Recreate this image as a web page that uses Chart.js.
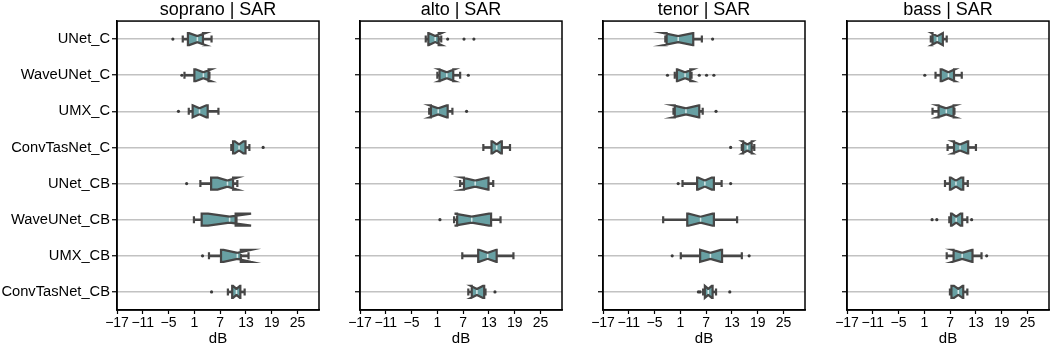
<!DOCTYPE html>
<html>
<head>
<meta charset="utf-8">
<script src="https://cdn.jsdelivr.net/npm/chart.js@4.4.1/dist/chart.umd.min.js"></script>
<style>
  body { margin: 0; background: #fff; }
  #wrap { position: relative; width: 1052px; height: 348px; overflow: hidden; }
  #wrap canvas { position: absolute; top: 0; }
</style>
</head>
<body>
<div id="wrap">
  <canvas id="c0"></canvas>
  <canvas id="c1"></canvas>
  <canvas id="c2"></canvas>
  <canvas id="c3"></canvas>
</div>
<script>
const categories = ['UNet_C', 'WaveUNet_C', 'UMX_C', 'ConvTasNet_C', 'UNet_CB', 'WaveUNet_CB', 'UMX_CB', 'ConvTasNet_CB'];
const voices = ['soprano', 'alto', 'tenor', 'bass'];
const xTicks = [-17, -11, -5, 1, 7, 13, 19, 25];

// one row per voice (soprano, alto, tenor, bass), one value per category
const whiskerLo = [
  [-1.7, -1.3, -0.3, 9.6, 2.4, 0.9, 4.4, 8.8],
  [-1.7, 1.0, -0.9, 11.7, 6.3, 4.9, 6.8, 8.2],
  [-2.5, -0.3, -0.6, 15.3, 1.5, -3.0, 1.1, 6.3],
  [2.5, 3.6, 2.9, 6.4, 5.8, 6.8, 6.2, 6.95]
];
const q1 = [
  [-0.5, 1.0, 0.6, 10.0, 4.9, 2.7, 7.2, 9.8],
  [-1.1, 1.5, -0.5, 13.6, 7.2, 5.6, 10.5, 9.0],
  [-2.2, 0.2, -0.3, 15.6, 4.9, 2.6, 5.6, 6.7],
  [2.9, 4.8, 4.3, 7.9, 6.95, 7.2, 7.8, 7.3]
];
const median = [
  [1.7, 3.1, 2.2, 11.4, 8.7, 9.2, 11.0, 10.8],
  [0.5, 3.2, 1.2, 14.8, 9.8, 9.0, 12.7, 10.2],
  [0.5, 2.1, 2.3, 16.6, 6.7, 5.7, 8.0, 7.5],
  [4.0, 6.6, 6.1, 9.3, 8.35, 8.4, 9.8, 8.9]
];
const q3 = [
  [3.0, 4.3, 4.1, 12.9, 10.0, 10.6, 11.8, 11.7],
  [1.3, 4.7, 3.4, 16.0, 12.9, 13.5, 14.8, 11.9],
  [4.0, 3.3, 5.4, 17.6, 8.8, 8.8, 10.7, 8.5],
  [5.3, 7.9, 7.8, 11.2, 10.05, 9.8, 12.2, 10.05]
];
const whiskerHi = [
  [5.0, 4.5, 6.6, 13.8, 11.0, 10.8, 13.6, 12.7],
  [1.9, 6.3, 4.5, 17.9, 14.0, 15.7, 18.7, 12.2],
  [6.0, 3.6, 6.2, 18.2, 10.6, 14.2, 15.3, 9.3],
  [6.2, 9.7, 8.0, 13.0, 11.1, 11.0, 14.3, 11.0]
];
// half width of the notch around the median
const notchHalf = [
  [1.9, 1.8, 1.6, 1.0, 2.3, 5.0, 3.2, 0.8],
  [1.5, 1.8, 2.0, 1.0, 3.0, 4.0, 2.0, 1.4],
  [3.4, 1.8, 3.0, 1.2, 1.6, 2.8, 2.4, 0.8],
  [1.3, 1.5, 2.1, 1.7, 1.2, 1.0, 2.3, 1.0]
];
const outliers = [
  [[-4.0], [-1.9], [-2.7], [17.0], [-0.8], [], [2.9], [5.0]],
  [[3.4, 7.2, 9.5], [8.2], [7.8], [], [], [1.6], [], [14.4]],
  [[8.5], [-2.0, 5.4, 7.1, 8.8], [9.3], [12.7], [0.5, 12.7], [], [-0.9, 17.0], [5.2, 5.6, 12.5]],
  [[], [1.1], [], [], [], [2.8, 3.9, 12.0], [15.5], []]
];

const fontFam = "'Liberation Sans', Arial, sans-serif";
const boxFill = '#68a0a3';
const edge = '#464646';
const plotLeft = [117, 360, 603, 847];
const plotW = 202;

Chart.defaults.font.family = fontFam;
Chart.defaults.color = '#000';

function fmtTick(v) {
  return v < 0 ? '\u2212' + Math.abs(v) : String(v);
}

// notched boxes, caps and medians, placed through the chart scales
const notchBoxes = {
  id: 'notchBoxes',
  afterDatasetsDraw(chart, args, opts) {
    const p = opts.panel;
    const ctx = chart.ctx;
    const xs = chart.scales.x, ys = chart.scales.y;
    const px = v => xs.getPixelForValue(v);
    const h = 6, hn = 3, cap = 3.5;
    ctx.save();
    categories.forEach((c, i) => {
      const yc = ys.getPixelForValue(i);
      const med = median[p][i];
      const lo = med - notchHalf[p][i], hi = med + notchHalf[p][i];
      ctx.beginPath();
      ctx.moveTo(px(q1[p][i]), yc - h);
      ctx.lineTo(px(lo), yc - h);
      ctx.lineTo(px(med), yc - hn);
      ctx.lineTo(px(hi), yc - h);
      ctx.lineTo(px(q3[p][i]), yc - h);
      ctx.lineTo(px(q3[p][i]), yc + h);
      ctx.lineTo(px(hi), yc + h);
      ctx.lineTo(px(med), yc + hn);
      ctx.lineTo(px(lo), yc + h);
      ctx.lineTo(px(q1[p][i]), yc + h);
      ctx.closePath();
      ctx.fillStyle = boxFill;
      ctx.fill();
      ctx.lineWidth = 2.2;
      ctx.lineJoin = 'miter';
      ctx.strokeStyle = edge;
      ctx.stroke();

      ctx.beginPath();
      [whiskerLo[p][i], whiskerHi[p][i]].forEach(v => {
        ctx.moveTo(px(v), yc - cap);
        ctx.lineTo(px(v), yc + cap);
      });
      ctx.lineWidth = 2.2;
      ctx.stroke();

      ctx.beginPath();
      ctx.moveTo(px(med), yc - hn + 1);
      ctx.lineTo(px(med), yc + hn - 1);
      ctx.strokeStyle = '#d6e8e8';
      ctx.lineWidth = 1.5;
      ctx.stroke();
    });
    ctx.restore();
  }
};

const frame = {
  id: 'frame',
  afterDraw(chart) {
    const a = chart.chartArea;
    const ctx = chart.ctx;
    ctx.save();
    ctx.strokeStyle = '#000';
    ctx.lineWidth = 1.5;
    ctx.strokeRect(a.left, a.top, a.right - a.left, a.bottom - a.top);
    ctx.restore();
  }
};

voices.forEach((voice, p) => {
  const yW = p === 0 ? 117 : 30;
  const canvas = document.getElementById('c' + p);
  canvas.width = yW + plotW + 4;
  canvas.height = 348;
  canvas.style.left = (plotLeft[p] - yW) + 'px';

  const outPts = [];
  outliers[p].forEach((arr, j) => arr.forEach(v => outPts.push({ x: v, y: categories[j] })));

  new Chart(canvas, {
    type: 'bar',
    data: {
      labels: categories,
      datasets: [
        {
          label: 'whisker',
          data: whiskerLo[p].map((lo, j) => [lo, whiskerHi[p][j]]),
          backgroundColor: edge,
          barThickness: 2,
          borderWidth: 0
        },
        {
          type: 'scatter',
          label: 'outliers',
          data: outPts,
          pointRadius: 1.6,
          backgroundColor: '#3a3a3a',
          borderWidth: 0
        }
      ]
    },
    options: {
      responsive: false,
      animation: false,
      indexAxis: 'y',
      layout: { padding: { right: 4 } },
      scales: {
        x: {
          type: 'linear',
          min: -17,
          max: 30,
          afterBuildTicks: s => { s.ticks = xTicks.map(v => ({ value: v })); },
          afterFit: s => { s.height = 38; },
          grid: { display: true, drawOnChartArea: false, tickColor: '#000', tickLength: 4, tickWidth: 1.2 },
          border: { color: '#000', width: 1.5 },
          ticks: {
            autoSkip: false, maxRotation: 0, padding: 1,
            color: '#000', font: { size: 14 },
            callback: v => fmtTick(v)
          },
          title: { display: true, text: 'dB', color: '#000', font: { size: 15 }, padding: 0 }
        },
        y: {
          offset: true,
          afterFit: s => { s.width = yW; },
          grid: { offset: false, color: '#c2c2c2', lineWidth: 1.5, tickColor: '#000', tickLength: 5, tickWidth: 1.2 },
          border: { color: '#000', width: 1.5 },
          ticks: {
            padding: 2, color: '#000', font: { size: 14.7 },
            callback: (v, idx) => p === 0 ? categories[idx] : ''
          }
        }
      },
      plugins: {
        legend: { display: false },
        tooltip: { enabled: false },
        title: {
          display: true, text: voice + ' | SAR', fullSize: false,
          color: '#000', font: { size: 18, weight: 'normal', lineHeight: 1.17 }, padding: 0
        },
        notchBoxes: { panel: p }
      }
    },
    plugins: [notchBoxes, frame]
  });
});
</script>
</body>
</html>
